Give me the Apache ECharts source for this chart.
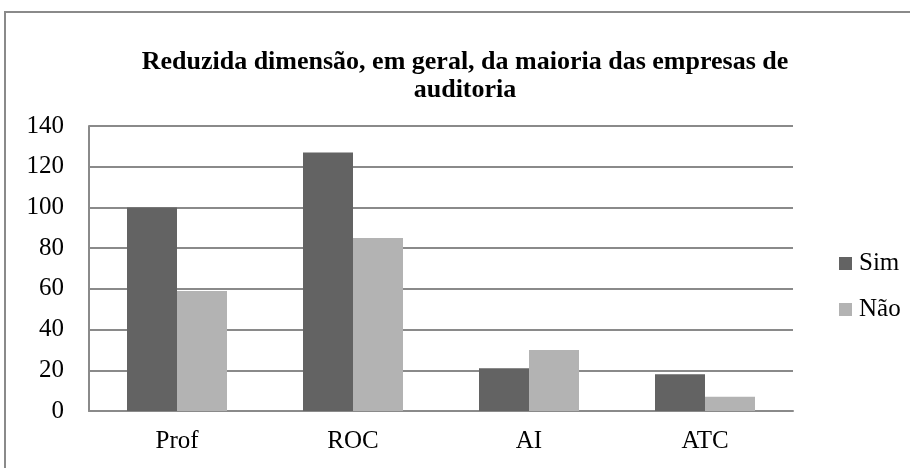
<!DOCTYPE html>
<html>
<head>
<meta charset="utf-8">
<script src="https://cdn.jsdelivr.net/npm/echarts@6/dist/echarts.min.js"></script>
<style>
    html, body { margin: 0; padding: 0; background: #fff; }
    #chart { width: 910px; height: 468px; }
</style>
</head>
<body>
<div id="chart"></div>
<script>
// dados do gráfico
const categorias = ['Prof', 'ROC', 'AI', 'ATC'];
const valoresSim = [100, 127, 21, 18];
const valoresNao = [59, 85, 30, 7];
const nomesSeries = ['Sim', 'Não'];

const serif = 'Liberation Serif, Times New Roman, serif';

const chart = echarts.init(document.getElementById('chart'));

const option = {
    backgroundColor: '#fff',
    animation: false,
    title: {
        text: 'Reduzida dimensão, em geral, da maioria das empresas de\nauditoria',
        left: 460,
        textAlign: 'center',
        top: 43,
        textStyle: {
            fontFamily: serif,
            fontWeight: 'bold',
            fontSize: 26,
            lineHeight: 28,
            color: '#000'
        }
    },
    // moldura do gráfico (cortada à direita e em baixo)
    graphic: [{
        type: 'rect',
        shape: { x: 5, y: 12, width: 920, height: 470 },
        style: { fill: 'none', stroke: '#8a8a8a', lineWidth: 2 },
        silent: true
    }],
    legend: {
        data: nomesSeries,
        orient: 'vertical',
        left: 834,
        top: 246,
        itemWidth: 13,
        itemHeight: 13,
        itemGap: 21,
        icon: 'rect',
        textStyle: { fontFamily: serif, fontSize: 25, color: '#000', padding: [0, 0, 0, 2] }
    },
    grid: {
        left: 89,
        right: 117,
        top: 126,
        bottom: 57
    },
    xAxis: {
        type: 'category',
        data: categorias,
        axisLine: { lineStyle: { color: '#8a8a8a', width: 2 } },
        axisTick: { show: false },
        axisLabel: { fontFamily: serif, fontSize: 25, color: '#000', margin: 18 }
    },
    yAxis: {
        type: 'value',
        min: 0,
        max: 140,
        interval: 20,
        axisLine: { show: true, lineStyle: { color: '#8a8a8a', width: 2 } },
        axisTick: { show: false },
        splitLine: { lineStyle: { color: '#8a8a8a', width: 2 } },
        axisLabel: { fontFamily: serif, fontSize: 25, color: '#000', margin: 25 }
    },
    series: [
        {
            name: nomesSeries[0],
            type: 'bar',
            data: valoresSim,
            barWidth: 50,
            barGap: '0%',
            itemStyle: { color: '#636363' }
        },
        {
            name: nomesSeries[1],
            type: 'bar',
            data: valoresNao,
            barWidth: 50,
            itemStyle: { color: '#b3b3b3' }
        }
    ]
};

chart.setOption(option);
</script>
</body>
</html>
